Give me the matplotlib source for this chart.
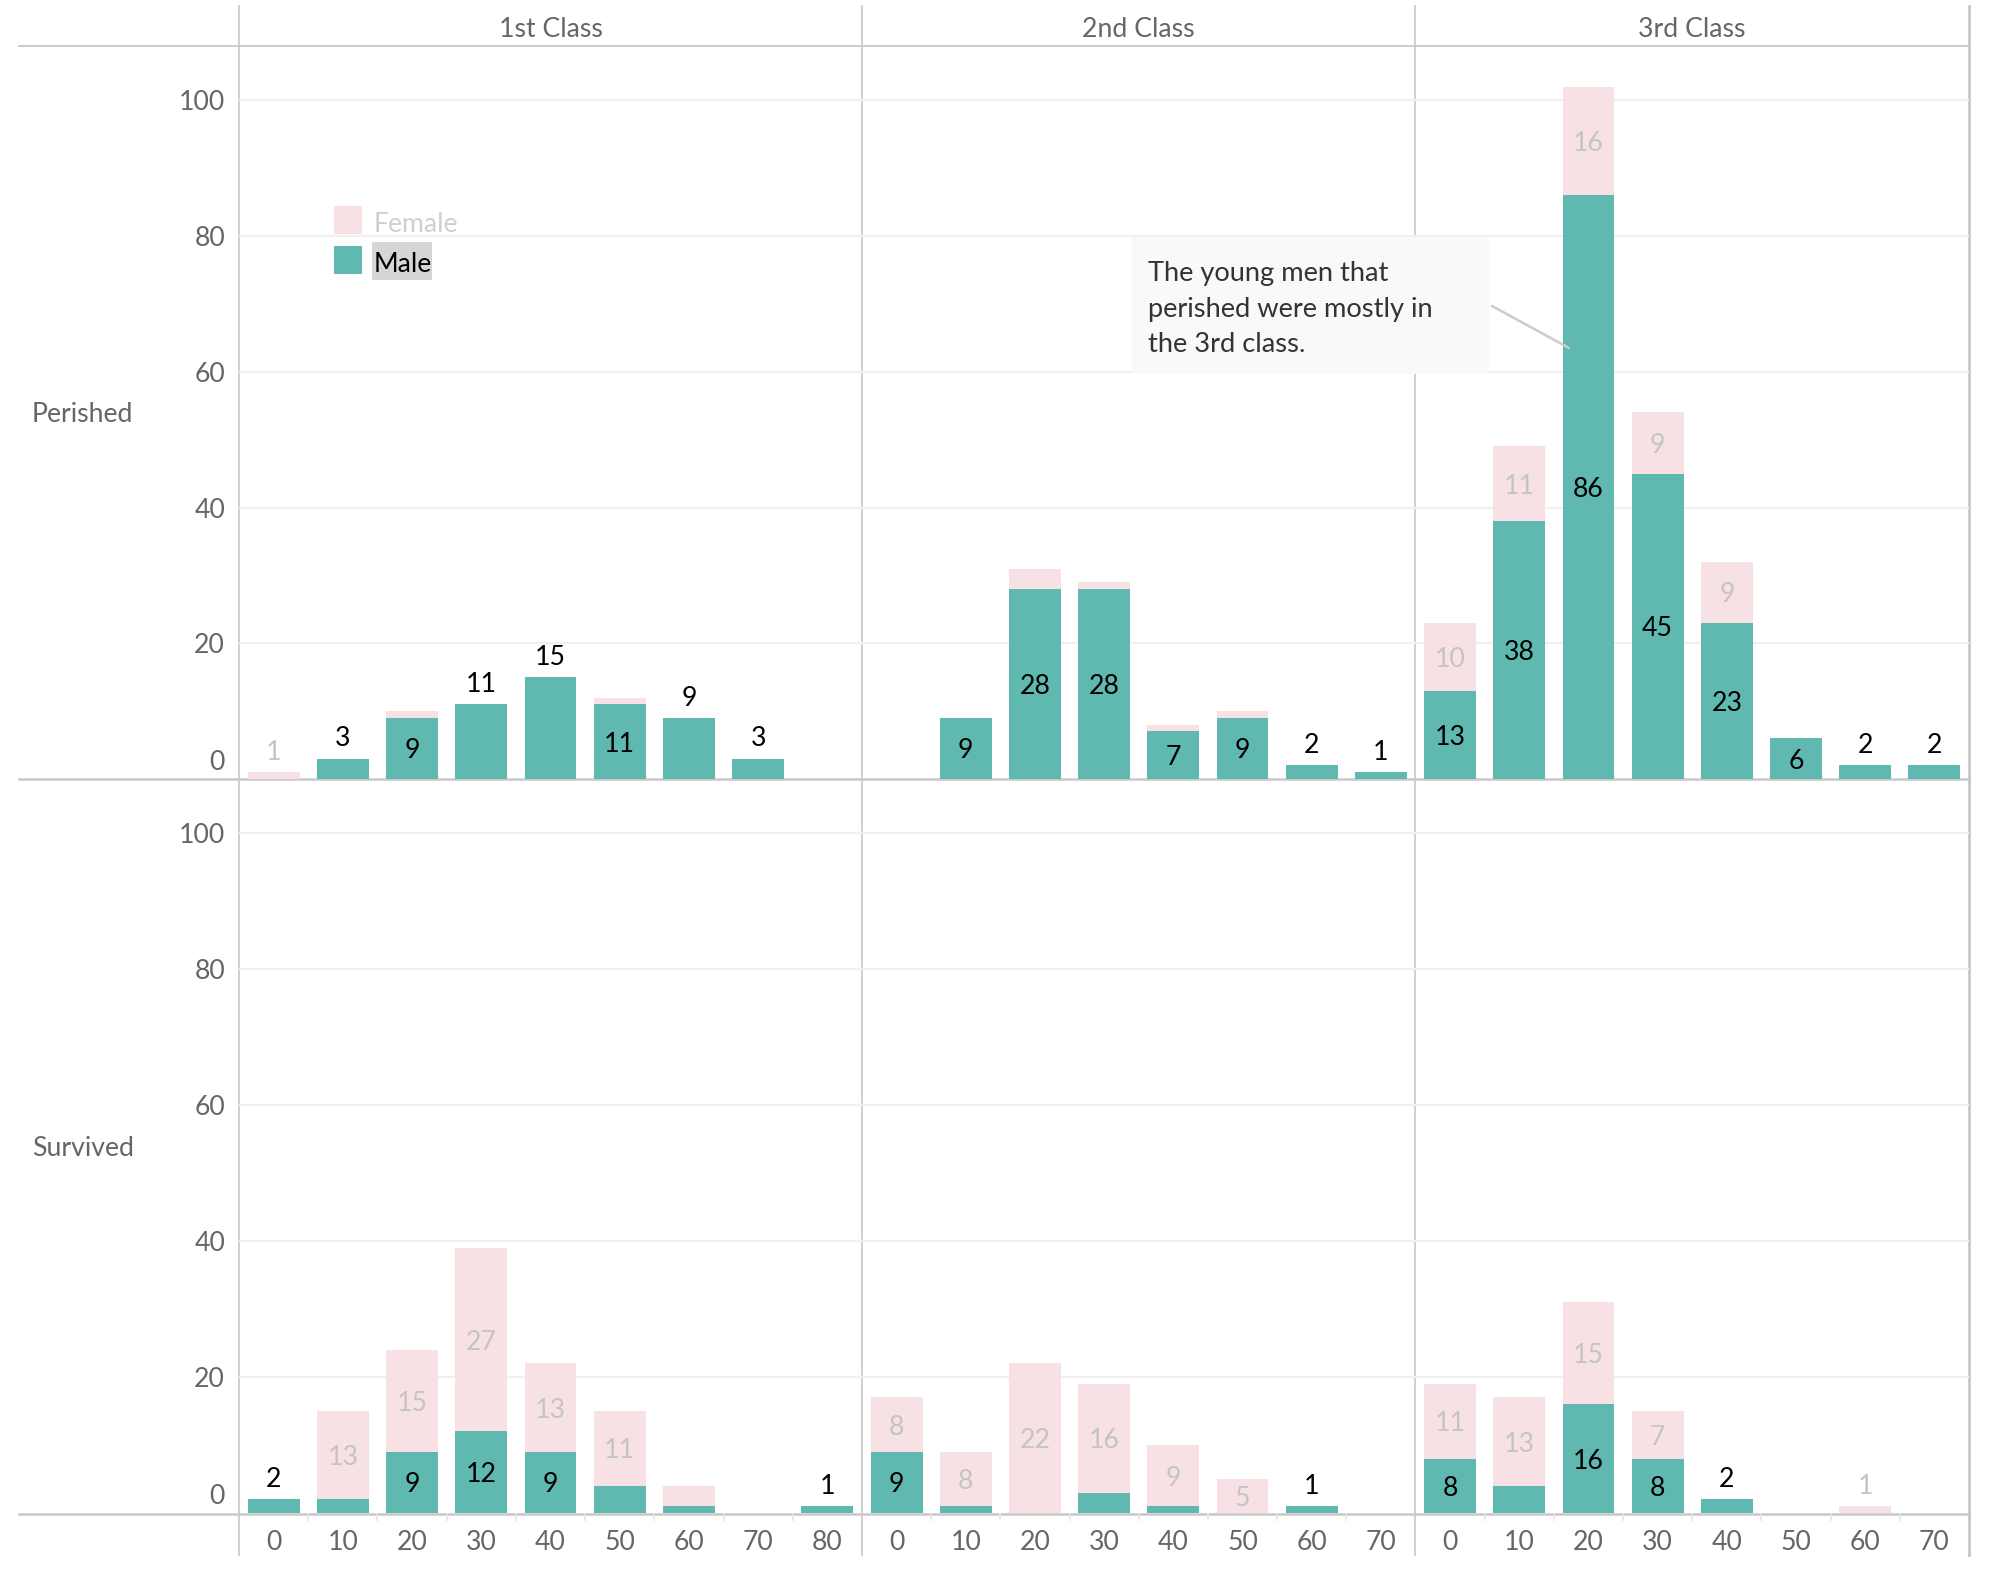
import matplotlib
matplotlib.use('Agg')
import matplotlib.pyplot as plt
from matplotlib.patches import Rectangle
from matplotlib.lines import Line2D
import matplotlib.transforms as mtransforms

# ---------------- data ----------------
classes = ['1st Class', '2nd Class', '3rd Class']
outcomes = ['Perished', 'Survived']
age_bins = {
    '1st Class': [0, 10, 20, 30, 40, 50, 60, 70, 80],
    '2nd Class': [0, 10, 20, 30, 40, 50, 60, 70],
    '3rd Class': [0, 10, 20, 30, 40, 50, 60, 70],
}
perished_male = {
    '1st Class': [0, 3, 9, 11, 15, 11, 9, 3, 0],
    '2nd Class': [0, 9, 28, 28, 7, 9, 2, 1],
    '3rd Class': [13, 38, 86, 45, 23, 6, 2, 2],
}
perished_female = {
    '1st Class': [1, 0, 1, 0, 0, 1, 0, 0, 0],
    '2nd Class': [0, 0, 3, 1, 1, 1, 0, 0],
    '3rd Class': [10, 11, 16, 9, 9, 0, 0, 0],
}
survived_male = {
    '1st Class': [2, 2, 9, 12, 9, 4, 1, 0, 1],
    '2nd Class': [9, 1, 0, 3, 1, 0, 1, 0],
    '3rd Class': [8, 4, 16, 8, 2, 0, 0, 0],
}
survived_female = {
    '1st Class': [0, 13, 15, 27, 13, 11, 3, 0, 0],
    '2nd Class': [8, 8, 22, 16, 9, 5, 0, 0],
    '3rd Class': [11, 13, 15, 7, 0, 0, 1, 0],
}
y_ticks = [0, 20, 40, 60, 80, 100]
annotation_text = "The young men that\nperished were mostly in\nthe 3rd class."
# single-segment bars whose labels Tableau put above the bar
labels_above = [('1st Class', 'Perished', 30), ('1st Class', 'Perished', 40),
                ('1st Class', 'Perished', 60)]

# ---------------- style ----------------
MALE = '#5fb9b1'
FEMALE = '#f8e1e5'
FEMALE_TXT = '#c4c4c4'
TICK_TXT = '#666666'
GRID = '#f0f0f0'
LINE = '#c8c8c8'
FONT = 'Lato'
FS = 9.6

plt.rcParams['font.family'] = [FONT, 'DejaVu Sans']

W, H = 1996, 1572
DPI = 200
fig = plt.figure(figsize=(W / DPI, H / DPI), dpi=DPI)
fig.patch.set_facecolor('white')

bg = fig.add_axes([0, 0, 1, 1], zorder=0)
bg.set_xlim(0, W)
bg.set_ylim(H, 0)
bg.axis('off')

col_x = [239, 862, 1415.5, 1969]
row_y = [46, 779, 1513]
YMAX = 108

data = {('Perished', 'm'): perished_male, ('Perished', 'f'): perished_female,
        ('Survived', 'm'): survived_male, ('Survived', 'f'): survived_female}

axes = {}
for r, outcome in enumerate(outcomes):
    for c, cls in enumerate(classes):
        left = col_x[c] / W
        width = (col_x[c + 1] - col_x[c]) / W
        bottom = 1 - row_y[r + 1] / H
        height = (row_y[r + 1] - row_y[r]) / H
        ax = fig.add_axes([left, bottom, width, height], zorder=1)
        ax.patch.set_alpha(0)
        axes[(outcome, cls)] = ax
        ages = age_bins[cls]
        n = len(ages)
        xs = list(range(n))
        male = data[(outcome, 'm')][cls]
        female = data[(outcome, 'f')][cls]
        ax.set_xlim(-0.5, n - 0.5)
        ax.set_ylim(0, YMAX)
        for s in ax.spines.values():
            s.set_visible(False)
        for yt in y_ticks[1:]:
            ax.axhline(yt, color=GRID, lw=0.8, zorder=0)
        ax.bar(xs, male, width=0.75, color=MALE, zorder=2, linewidth=0)
        ax.bar(xs, female, width=0.75, bottom=male, color=FEMALE, zorder=2, linewidth=0)

        # labels
        for i, age in enumerate(ages):
            segs = [(male[i], 0, 'black'), (female[i], male[i], FEMALE_TXT)]
            for k, (v, base, col) in enumerate(segs):
                if v <= 0:
                    continue
                other = segs[1 - k][0]
                single = other == 0
                above = False
                if v >= 5:
                    if single and (cls, outcome, age) in labels_above:
                        above = True
                elif single:
                    above = True
                else:
                    continue
                if above:
                    ax.annotate(str(v), (i, base + v), xytext=(0, 2.6),
                                textcoords='offset points', ha='center', va='bottom',
                                fontsize=FS, color=col, zorder=4)
                else:
                    ax.text(i, base + v / 2, str(v), ha='center', va='center_baseline',
                            fontsize=FS, color=col, zorder=4)

        # ticks
        ax.set_yticks([])
        if c == 0:
            for yt in y_ticks:
                trans = mtransforms.offset_copy(ax.get_yaxis_transform(), fig=fig,
                                                x=-5, y=(1.5 if yt == 0 else 0), units='points')
                ax.text(0, yt, str(yt), transform=trans, ha='right',
                        va=('bottom' if yt == 0 else 'center_baseline'),
                        fontsize=FS, color=TICK_TXT)
        if r == 1:
            ax.set_xticks(xs)
            ax.set_xticklabels([str(a) for a in ages], fontsize=FS, color=TICK_TXT)
            ax.set_xticks([x + 0.5 for x in xs[:-1]], minor=True)
            ax.tick_params(axis='x', which='major', length=0, pad=6)
            ax.tick_params(axis='x', which='minor', length=3, width=0.6,
                           color='#e6e6e6', direction='out', pad=0)
        else:
            ax.set_xticks([])

# ---------------- frame lines ----------------
lw_thin = 0.6
bg.add_line(Line2D([19, 1969], [46, 46], color='#c4c4c4', lw=lw_thin))
bg.add_line(Line2D([19, 1969], [779, 779], color=LINE, lw=0.9))
bg.add_line(Line2D([19, 1969], [1513.5, 1513.5], color=LINE, lw=0.9))
for x in col_x[:3]:
    bg.add_line(Line2D([x, x], [6, 1555], color=LINE, lw=lw_thin))
bg.add_line(Line2D([col_x[3], col_x[3]], [6, 1555], color=LINE, lw=1.0))

# headers
for c, cls in enumerate(classes):
    bg.text((col_x[c] + col_x[c + 1]) / 2, 27, cls, ha='center', va='center_baseline',
            fontsize=FS, color=TICK_TXT)
for r, outcome in enumerate(outcomes):
    bg.text(32, (row_y[r] + row_y[r + 1]) / 2, outcome, ha='left', va='center_baseline',
            fontsize=FS, color=TICK_TXT)

# legend
bg.add_patch(Rectangle((334, 206), 28, 28, color=FEMALE, lw=0))
bg.add_patch(Rectangle((334, 246), 28, 28, color=MALE, lw=0))
bg.text(374, 222, 'Female', ha='left', va='center_baseline', fontsize=FS, color='#cfcfcf')
bg.add_patch(Rectangle((372, 242), 60, 38, color='#d6d6d6', lw=0))
bg.text(374, 262, 'Male', ha='left', va='center_baseline', fontsize=FS, color='black')

# annotation
fg = fig.add_axes([0, 0, 1, 1], zorder=3)
fg.set_xlim(0, W)
fg.set_ylim(H, 0)
fg.axis('off')
fg.add_patch(Rectangle((1132, 237), 357, 137, color='#f9f9f9', lw=0))
fg.text(1148, 309, annotation_text, ha='left', va='center', fontsize=9.8,
        color='#333333', linespacing=1.52)
ax3 = axes[('Perished', '3rd Class')]
fg.annotate('', xy=(1.72, 63.5), xycoords=ax3.transData,
            xytext=(1492, 306), textcoords='data',
            arrowprops=dict(arrowstyle='-', color='#cccccc', lw=0.9,
                            shrinkA=0, shrinkB=0), annotation_clip=False)

fig.savefig('out.png', dpi=DPI)
